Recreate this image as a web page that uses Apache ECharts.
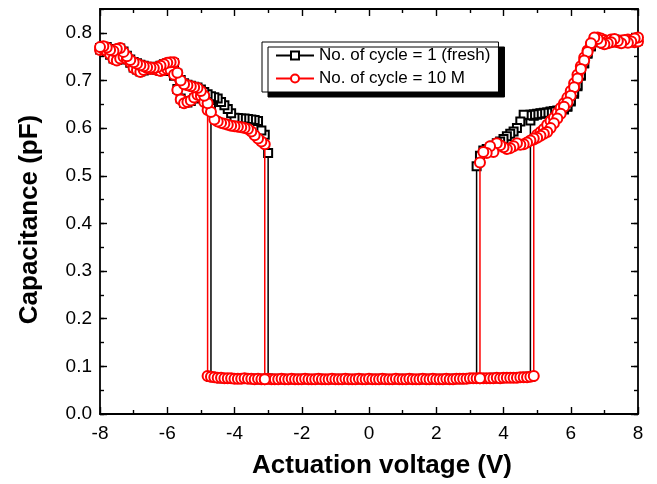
<!DOCTYPE html>
<html>
<head>
<meta charset="utf-8">
<script src="https://cdn.jsdelivr.net/npm/echarts@6/dist/echarts.min.js"></script>
<style>
html,body{margin:0;padding:0;background:#fff;}
#chart{width:657px;height:484px;}
</style>
</head>
<body>
<div id="chart"></div>
<script>
// ---- data (capacitance in pF, voltage sweep step 0.1 V) ----
const STEP = 0.1;
const xTicks = [-8, -6, -4, -2, 0, 2, 4, 6, 8];
const seriesNames = ['No. of cycle = 1 (fresh)', 'No. of cycle = 10 M'];

// fresh device
const freshNegReleaseStart = -8.0; // sweep -8.0 -> -3.0
const freshNegRelease = [
  0.768, 0.771, 0.770, 0.766, 0.763, 0.765, 0.767, 0.761, 0.752, 0.744,
  0.739, 0.736, 0.733, 0.731, 0.729, 0.728, 0.727, 0.729, 0.731, 0.734,
  0.736, 0.737, 0.736, 0.714, 0.701, 0.694, 0.691, 0.689, 0.687, 0.685,
  0.681, 0.676, 0.671, 0.667, 0.665, 0.662, 0.655, 0.648, 0.640, 0.631,
  0.622, 0.621, 0.620, 0.620, 0.619, 0.618, 0.617, 0.615, 0.595, 0.586,
  0.548
];
const freshNegPullInStart = -4.7; // sweep -4.7 -> -8.0
const freshNegPullIn = [
  0.642, 0.652, 0.663, 0.669, 0.668, 0.662, 0.657, 0.654, 0.653, 0.662,
  0.682, 0.710, 0.720, 0.723, 0.721, 0.720, 0.723, 0.724, 0.723, 0.725,
  0.721, 0.719, 0.723, 0.727, 0.737, 0.744, 0.748, 0.745, 0.743, 0.746,
  0.754, 0.761, 0.764, 0.765
];
const freshLowStart = -4.7; // -4.7 -> 4.8
const freshLow = [
  0.078, 0.077, 0.076, 0.075, 0.075, 0.075, 0.074, 0.074, 0.074, 0.074,
  0.074, 0.074, 0.074, 0.073, 0.074, 0.073, 0.073, 0.074, 0.074, 0.073,
  0.073, 0.074, 0.073, 0.073, 0.073, 0.074, 0.073, 0.073, 0.074, 0.073,
  0.073, 0.073, 0.074, 0.073, 0.073, 0.073, 0.073, 0.074, 0.073, 0.073,
  0.074, 0.073, 0.073, 0.073, 0.074, 0.073, 0.073, 0.073, 0.074, 0.073,
  0.073, 0.074, 0.073, 0.073, 0.073, 0.073, 0.074, 0.073, 0.073, 0.074,
  0.073, 0.073, 0.073, 0.074, 0.073, 0.073, 0.074, 0.073, 0.073, 0.074,
  0.073, 0.073, 0.074, 0.074, 0.073, 0.074, 0.074, 0.075, 0.074, 0.075,
  0.075, 0.075, 0.075, 0.075, 0.076, 0.075, 0.075, 0.076, 0.076, 0.076,
  0.076, 0.077, 0.077, 0.077, 0.078, 0.078
];
const freshPosPullInStart = 4.8; // 4.8 -> 8.0
const freshPosPullIn = [
  0.616, 0.626, 0.628, 0.630, 0.631, 0.632, 0.634, 0.635, 0.636, 0.637,
  0.639, 0.645, 0.656, 0.672, 0.688, 0.710, 0.736, 0.758, 0.772, 0.783,
  0.786, 0.784, 0.782, 0.781, 0.784, 0.780, 0.782, 0.785, 0.781, 0.783,
  0.785, 0.782, 0.784
];
const freshPosReleaseStart = 8.0; // 8.0 -> 3.2
const freshPosRelease = [
  0.787, 0.785, 0.781, 0.780, 0.784, 0.779, 0.782, 0.786, 0.781, 0.779,
  0.777, 0.780, 0.786, 0.786, 0.772, 0.756, 0.736, 0.712, 0.690, 0.676,
  0.658, 0.646, 0.640, 0.638, 0.637, 0.636, 0.635, 0.633, 0.632, 0.631,
  0.630, 0.629, 0.628, 0.627, 0.628, 0.614, 0.600, 0.593, 0.588, 0.583,
  0.577, 0.572, 0.568, 0.563, 0.559, 0.556, 0.553, 0.542, 0.520
];

// after 10 M cycles
const cycledNegReleaseStart = -8.0; // -8.0 -> -3.1
const cycledNegRelease = [
  0.770, 0.772, 0.769, 0.764, 0.762, 0.766, 0.768, 0.760, 0.751, 0.743,
  0.738, 0.735, 0.732, 0.730, 0.728, 0.727, 0.726, 0.728, 0.731, 0.734,
  0.737, 0.738, 0.738, 0.716, 0.700, 0.692, 0.690, 0.688, 0.686, 0.684,
  0.678, 0.668, 0.652, 0.634, 0.618, 0.614, 0.611, 0.609, 0.607, 0.605,
  0.604, 0.603, 0.602, 0.600, 0.598, 0.593, 0.585, 0.578, 0.572, 0.566
];
const cycledNegPullInStart = -4.8; // -4.8 -> -8.0
const cycledNegPullIn = [
  0.638, 0.655, 0.668, 0.670, 0.664, 0.658, 0.655, 0.652, 0.660, 0.680,
  0.712, 0.722, 0.724, 0.722, 0.720, 0.722, 0.725, 0.724, 0.726, 0.722,
  0.718, 0.722, 0.726, 0.738, 0.745, 0.750, 0.746, 0.742, 0.745, 0.755,
  0.762, 0.766, 0.764
];
const cycledLowStart = -4.8; // -4.8 -> 4.9
const cycledLow = [
  0.080, 0.078, 0.077, 0.076, 0.076, 0.075, 0.075, 0.075, 0.074, 0.074,
  0.074, 0.075, 0.074, 0.074, 0.073, 0.074, 0.073, 0.073, 0.074, 0.073,
  0.073, 0.073, 0.074, 0.073, 0.073, 0.074, 0.073, 0.073, 0.073, 0.074,
  0.073, 0.073, 0.073, 0.074, 0.073, 0.073, 0.073, 0.074, 0.073, 0.073,
  0.073, 0.074, 0.073, 0.073, 0.073, 0.074, 0.073, 0.073, 0.074, 0.073,
  0.073, 0.073, 0.074, 0.073, 0.073, 0.073, 0.074, 0.073, 0.073, 0.073,
  0.074, 0.073, 0.073, 0.073, 0.074, 0.073, 0.073, 0.074, 0.073, 0.073,
  0.073, 0.074, 0.073, 0.073, 0.074, 0.074, 0.074, 0.074, 0.075, 0.075,
  0.075, 0.075, 0.075, 0.075, 0.075, 0.075, 0.076, 0.075, 0.076, 0.076,
  0.076, 0.076, 0.076, 0.077, 0.077, 0.077, 0.078, 0.080
];
const cycledPosPullInStart = 4.9; // 4.9 -> 8.0
const cycledPosPullIn = [
  0.576, 0.586, 0.592, 0.598, 0.607, 0.615, 0.622, 0.632, 0.642, 0.652,
  0.664, 0.678, 0.694, 0.712, 0.730, 0.748, 0.763, 0.775, 0.786, 0.790,
  0.788, 0.785, 0.783, 0.786, 0.782, 0.780, 0.784, 0.780, 0.786, 0.784,
  0.780, 0.782
];
const cycledPosReleaseStart = 8.0; // 8.0 -> 3.3
const cycledPosRelease = [
  0.790, 0.788, 0.782, 0.779, 0.785, 0.778, 0.783, 0.787, 0.780, 0.778,
  0.776, 0.779, 0.787, 0.790, 0.778, 0.760, 0.742, 0.724, 0.704, 0.686,
  0.668, 0.654, 0.645, 0.630, 0.620, 0.610, 0.600, 0.592, 0.588, 0.584,
  0.580, 0.578, 0.574, 0.570, 0.566, 0.565, 0.568, 0.562, 0.558, 0.556,
  0.560, 0.564, 0.568, 0.550, 0.562, 0.548, 0.550, 0.528
];

// ---- build the hysteresis paths ----
function sweep(start, dir, values) {
  return values.map((y, i) => [+(start + dir * i * STEP).toFixed(1), y]);
}
function lowAt(v, start, low) {
  return [v, low[Math.round((v - start) / STEP)]];
}
function buildPath(negRelStart, negRel, negPullStart, negPull, lowStart, low, posPullStart, posPull, posRelStart, posRel) {
  const negRelPts = sweep(negRelStart, 1, negRel);
  const posRelPts = sweep(posRelStart, -1, posRel);
  const releaseNeg = negRelPts[negRelPts.length - 1][0];
  const releasePos = posRelPts[posRelPts.length - 1][0];
  return [].concat(
    sweep(negPullStart, -1, negPull).reverse(),
    sweep(lowStart, 1, low),
    sweep(posPullStart, 1, posPull),
    posRelPts,
    [lowAt(releasePos, lowStart, low)],
    [[null, null]],
    [lowAt(releaseNeg, lowStart, low)],
    negRelPts.slice().reverse()
  );
}
const freshPath = buildPath(freshNegReleaseStart, freshNegRelease, freshNegPullInStart, freshNegPullIn,
  freshLowStart, freshLow, freshPosPullInStart, freshPosPullIn, freshPosReleaseStart, freshPosRelease);
const cycledPath = buildPath(cycledNegReleaseStart, cycledNegRelease, cycledNegPullInStart, cycledNegPullIn,
  cycledLowStart, cycledLow, cycledPosPullInStart, cycledPosPullIn, cycledPosReleaseStart, cycledPosRelease);

// ---- chart ----
const FONT = '"Liberation Sans", Arial, Helvetica, sans-serif';
const chart = echarts.init(document.getElementById('chart'), null, {renderer: 'canvas'});
const frameLine = {show: true, onZero: false, lineStyle: {color: '#000', width: 1.8}};
const tickMajor = {show: true, inside: true, length: 7, lineStyle: {color: '#000', width: 1.4}};
const tickMinor = {show: true, inside: true, length: 4, lineStyle: {color: '#000', width: 1.4}};

const option = {
  animation: false,
  backgroundColor: '#fff',
  textStyle: {fontFamily: FONT},
  grid: {left: 100, right: 19, top: 9, bottom: 69, containLabel: false},
  legend: {
    orient: 'vertical',
    left: 262, top: 42,
    data: seriesNames,
    itemWidth: 38, itemHeight: 10, itemGap: 6,
    padding: [5, 8, 5, 13],
    backgroundColor: '#fff',
    borderColor: '#000', borderWidth: 1,
    shadowColor: '#000', shadowBlur: 0, shadowOffsetX: 6, shadowOffsetY: 5,
    textStyle: {fontSize: 17, color: '#000', fontFamily: FONT}
  },
  xAxis: [
    {
      type: 'value', position: 'bottom', min: xTicks[0], max: xTicks[xTicks.length - 1], interval: 2,
      axisLine: frameLine, axisTick: tickMajor,
      minorTick: {show: true, splitNumber: 2, length: 4, lineStyle: {color: '#000', width: 1.4}},
      axisLabel: {fontSize: 19, color: '#000', margin: 10, fontFamily: FONT},
      splitLine: {show: false}, minorSplitLine: {show: false},
      name: 'Actuation voltage (V)', nameLocation: 'middle', nameGap: 39,
      nameTextStyle: {fontSize: 26, fontWeight: 'bold', color: '#000', fontFamily: FONT, padding: [0, 0, 0, 26]}
    },
    {
      type: 'value', position: 'top', min: xTicks[0], max: xTicks[xTicks.length - 1], interval: 2,
      axisLine: frameLine, axisTick: tickMajor,
      minorTick: {show: true, splitNumber: 2, length: 4, lineStyle: {color: '#000', width: 1.4}},
      axisLabel: {show: false}, splitLine: {show: false}
    }
  ],
  yAxis: [
    {
      type: 'value', position: 'left', min: 0, max: 0.85, interval: 0.1,
      axisLine: frameLine, axisTick: tickMajor,
      axisLabel: {fontSize: 19, color: '#000', margin: 8, fontFamily: FONT, showMaxLabel: false,
        formatter: v => v.toFixed(1)},
      splitLine: {show: false},
      name: 'Capacitance (pF)', nameLocation: 'middle', nameGap: 57, nameRotate: 90,
      nameTextStyle: {fontSize: 26, fontWeight: 'bold', color: '#000', fontFamily: FONT, padding: [0, 16, 0, 0]}
    },
    {
      type: 'value', position: 'left', min: 0, max: 0.85, interval: 0.05,
      axisLine: {show: false, onZero: false}, axisTick: tickMinor,
      axisLabel: {show: false}, splitLine: {show: false}
    },
    {
      type: 'value', position: 'right', min: 0, max: 0.85, interval: 0.1,
      axisLine: frameLine, axisTick: tickMajor,
      axisLabel: {show: false}, splitLine: {show: false}
    },
    {
      type: 'value', position: 'right', min: 0, max: 0.85, interval: 0.05,
      axisLine: {show: false, onZero: false}, axisTick: tickMinor,
      axisLabel: {show: false}, splitLine: {show: false}
    }
  ],
  series: [
    {
      name: seriesNames[0], type: 'line', xAxisIndex: 0, yAxisIndex: 0, z: 2,
      data: freshPath, connectNulls: false,
      symbol: 'emptyRect', symbolSize: 8, showSymbol: true,
      lineStyle: {color: '#000', width: 1.5},
      itemStyle: {color: '#000', borderColor: '#000', borderWidth: 1}
    },
    {
      name: seriesNames[1], type: 'line', xAxisIndex: 0, yAxisIndex: 0, z: 3,
      data: cycledPath, connectNulls: false,
      symbol: 'emptyCircle', symbolSize: 10, showSymbol: true,
      lineStyle: {color: '#ff0000', width: 1.5},
      itemStyle: {color: '#ff0000', borderColor: '#ff0000', borderWidth: 1.1}
    }
  ]
};
chart.setOption(option);
</script>
</body>
</html>
